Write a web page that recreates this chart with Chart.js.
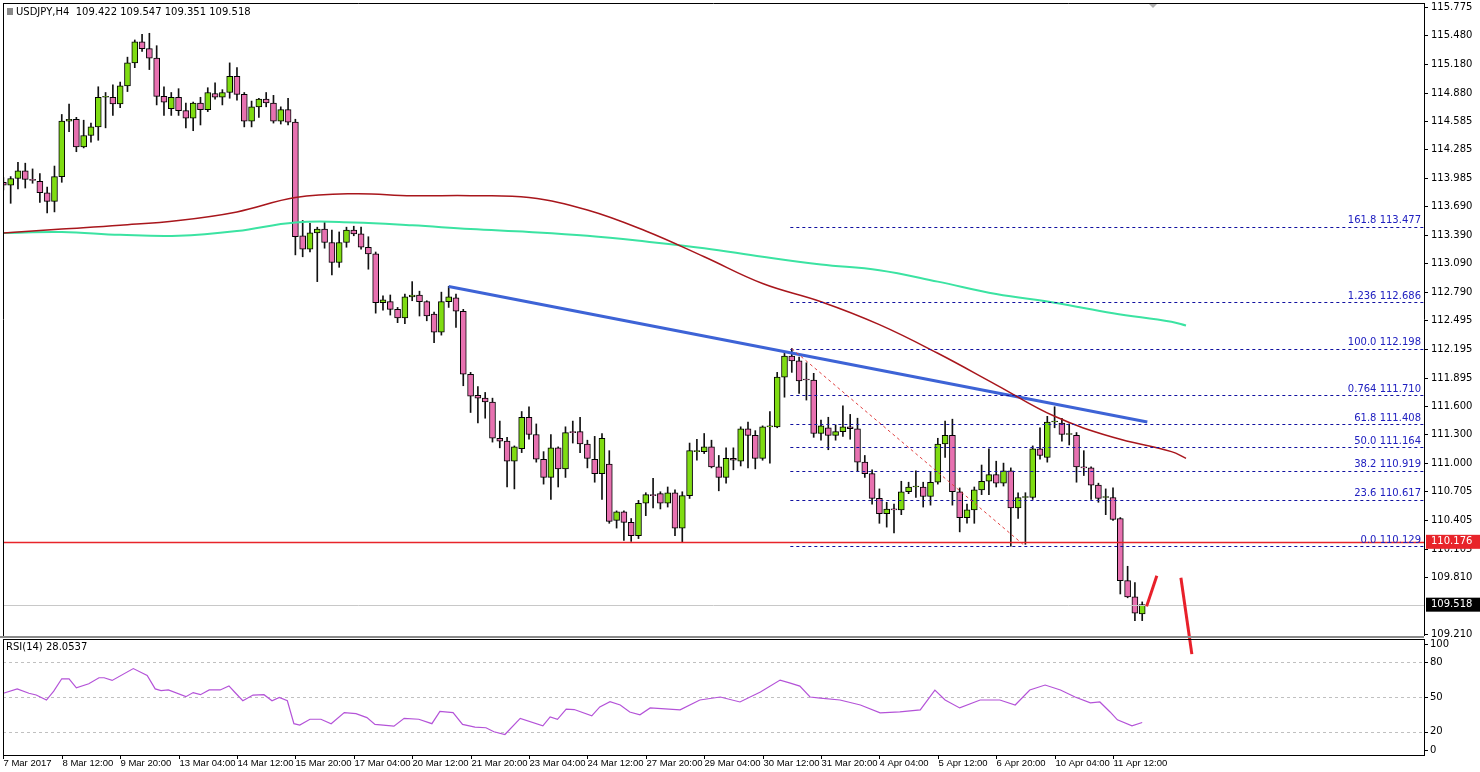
<!DOCTYPE html>
<html><head><meta charset="utf-8">
<script src="https://cdn.jsdelivr.net/npm/chart.js@4.4.1/dist/chart.umd.min.js"></script>
<style>
html,body{margin:0;padding:0;background:#fff;overflow:hidden}
#main{position:absolute;left:0;top:0}
#rsi{position:absolute;left:0;top:637px}
</style></head><body>
<canvas id="main" width="1480" height="772"></canvas>
<canvas id="rsi" width="1480" height="135"></canvas>
<script>
const opens=[113.94,113.91,113.98,114.06,113.97,113.95,113.83,113.74,114.00,114.58,114.60,114.31,114.43,114.52,114.83,114.83,114.76,114.95,115.19,115.41,115.34,115.24,114.84,114.71,114.83,114.69,114.61,114.77,114.70,114.87,114.83,114.88,115.05,114.86,114.58,114.73,114.81,114.77,114.58,114.70,
114.57,113.38,113.24,113.41,113.45,113.31,113.10,113.31,113.44,113.40,113.26,113.19,112.68,112.69,112.61,112.52,112.74,112.76,112.69,112.56,112.37,112.69,112.73,112.59,111.93,111.71,111.68,111.64,111.26,111.23,
111.02,111.15,111.48,111.30,111.04,110.85,111.16,110.94,111.33,111.33,111.20,111.04,110.89,110.99,110.40,110.49,110.38,110.24,110.58,110.67,110.68,110.58,110.69,110.32,110.66,111.12,111.12,111.17,110.96,110.85,
111.05,111.02,111.36,111.29,111.05,111.38,111.38,111.90,112.12,112.07,111.88,111.87,111.31,111.37,111.29,111.33,111.38,111.36,111.01,110.89,110.63,110.47,110.52,110.51,110.70,110.75,110.75,110.65,110.80,111.20,
111.29,110.70,110.43,110.51,110.72,110.81,110.88,110.79,110.92,110.53,110.64,110.64,111.15,111.06,111.43,111.42,111.30,111.29,110.96,110.95,110.77,110.64,110.64,110.42,109.77,109.60,109.422];
const highs=[113.99,114.00,114.15,114.14,114.08,114.03,113.89,114.11,114.65,114.76,114.62,114.59,114.56,114.94,114.88,114.96,114.99,115.25,115.43,115.49,115.50,115.37,114.94,114.88,114.92,114.77,114.78,114.83,114.93,114.98,114.91,115.19,115.14,114.88,114.79,114.82,114.88,114.85,114.73,114.82,
114.60,113.54,113.51,113.47,113.52,113.44,113.42,113.47,113.48,113.47,113.37,113.21,112.75,112.76,112.63,112.77,112.90,112.80,112.70,112.58,112.79,112.85,112.77,112.61,111.95,111.80,111.74,111.68,111.44,111.27,
111.18,111.54,111.59,111.41,111.12,111.30,111.17,111.38,111.44,111.48,111.24,111.28,111.31,111.13,110.50,110.50,110.42,110.61,110.69,110.84,110.70,110.75,110.72,110.70,111.21,111.25,111.31,111.24,111.08,111.16,
111.16,111.38,111.43,111.34,111.39,111.54,111.95,112.15,112.20,112.11,112.05,111.94,111.45,111.48,111.40,111.60,111.51,111.47,111.08,110.93,110.73,110.59,110.57,110.81,110.80,110.92,110.80,110.91,111.26,111.44,
111.46,110.74,110.57,110.75,110.98,111.15,111.02,111.00,110.95,110.69,110.69,111.18,111.37,111.49,111.59,111.47,111.41,111.32,111.13,110.96,110.79,110.73,110.74,110.43,109.92,109.75,109.547];
const lows=[113.86,113.72,113.87,113.88,113.93,113.73,113.62,113.63,113.94,114.47,114.26,114.30,114.36,114.38,114.51,114.64,114.72,114.89,115.14,115.31,115.12,114.75,114.64,114.64,114.64,114.51,114.48,114.54,114.68,114.81,114.75,114.82,114.80,114.52,114.52,114.62,114.73,114.56,114.55,114.54,
113.18,113.16,113.21,112.90,113.25,112.97,113.05,113.26,113.38,113.24,113.03,112.57,112.60,112.55,112.47,112.46,112.70,112.54,112.49,112.26,112.34,112.63,112.42,111.81,111.53,111.42,111.47,111.22,111.16,110.75,
110.73,111.11,111.25,111.01,110.78,110.62,110.75,110.85,111.21,111.11,110.95,110.80,110.62,110.37,110.32,110.19,110.18,110.21,110.45,110.53,110.52,110.54,110.24,110.17,110.63,111.03,111.10,110.95,110.71,110.79,
110.93,110.97,110.95,110.94,111.03,111.00,111.37,111.69,111.95,111.73,111.66,111.27,111.24,111.14,111.24,111.28,111.25,110.91,110.85,110.57,110.37,110.33,110.27,110.46,110.68,110.64,110.54,110.56,110.78,111.06,
110.56,110.28,110.37,110.37,110.67,110.67,110.75,110.76,110.13,110.42,110.15,110.62,111.04,111.01,111.37,111.23,111.19,110.80,110.87,110.62,110.59,110.46,110.40,109.63,109.59,109.35,109.351];
const closes=[113.91,113.98,114.06,113.97,113.96,113.83,113.74,114.00,114.58,114.60,114.31,114.43,114.52,114.83,114.84,114.76,114.95,115.19,115.41,115.34,115.24,114.84,114.78,114.83,114.69,114.61,114.77,114.70,114.88,114.83,114.88,115.05,114.86,114.58,114.73,114.81,114.77,114.58,114.70,114.57,
113.37,113.24,113.41,113.45,113.31,113.10,113.31,113.44,113.40,113.26,113.19,112.68,112.71,112.61,112.52,112.74,112.76,112.69,112.54,112.37,112.69,112.74,112.59,111.93,111.70,111.68,111.64,111.26,111.23,111.02,
111.17,111.48,111.30,111.04,110.85,111.16,110.94,111.32,111.32,111.20,111.05,110.89,111.26,110.39,110.49,110.38,110.24,110.58,110.67,110.66,110.58,110.69,110.32,110.66,111.13,111.13,111.17,110.96,110.85,111.05,
111.03,111.36,111.29,111.05,111.38,111.39,111.90,112.12,112.07,111.86,111.87,111.31,111.39,111.29,111.33,111.38,111.36,111.01,110.89,110.63,110.47,110.52,110.51,110.70,110.75,110.76,110.65,110.80,111.20,111.29,
110.70,110.43,110.51,110.72,110.81,110.88,110.79,110.92,110.53,110.64,110.65,111.15,111.08,111.43,111.44,111.30,111.31,110.96,110.95,110.77,110.63,110.65,110.41,109.77,109.60,109.43,109.518];

const maIdx=[0,8,16,24,32,40,48,56,64,72,80,88,96,104,112,120,128,136,144,152,160,162];
const maRed=[113.41,113.45,113.49,113.54,113.63,113.78,113.82,113.80,113.80,113.78,113.65,113.43,113.16,112.88,112.69,112.45,112.15,111.82,111.49,111.27,111.12,111.05];
const maGreen=[113.41,113.42,113.39,113.38,113.43,113.52,113.52,113.49,113.45,113.42,113.38,113.32,113.25,113.16,113.08,113.02,112.90,112.77,112.68,112.57,112.48,112.44];

const trendIdx=[61,156.7];
const trendVal=[112.85,111.43];
const fibTrendIdx=[108,140];
const fibTrendVal=[112.198,110.129];
const fibStartIdx=107.8;
const fibLevels=[113.477,112.686,112.198,111.710,111.408,111.164,110.919,110.617,110.129];
const fibNames=["161.8 113.477","1.236 112.686","100.0 112.198","0.764 111.710","61.8 111.408","50.0 111.164","38.2 110.919","23.6 110.617","0.0 110.129"];
const supportLevel=110.176;
const lastPrice=109.518;
const arrowIdx=[[156.6,158.0],[161.3,162.8]];
const arrowVal=[[109.50,109.82],[109.80,109.00]];

const yTicks=[115.775,115.480,115.180,114.880,114.585,114.285,113.985,113.690,113.390,113.090,112.790,112.495,112.195,111.895,111.600,111.300,111.000,110.705,110.405,110.105,109.810,109.210];
const xTickIdx=[0,8,16,24,32,40,48,56,64,72,80,88,96,104,112,120,128,136,144,152];
const xTickLabels=["7 Mar 2017","8 Mar 12:00","9 Mar 20:00","13 Mar 04:00","14 Mar 12:00","15 Mar 20:00","17 Mar 04:00","20 Mar 12:00","21 Mar 20:00","23 Mar 04:00","24 Mar 12:00","27 Mar 20:00","29 Mar 04:00","30 Mar 12:00","31 Mar 20:00","4 Apr 04:00","5 Apr 12:00","6 Apr 20:00","10 Apr 04:00","11 Apr 12:00"];

const rsiIdx=[0,1.9,3.5,4.5,5.9,6.9,8,9,10,11.7,13.1,13.8,14.9,17.8,19.7,20.8,21.6,22.6,25,26,27,28.2,29.7,30.9,31.7,32.8,34.2,35.7,36.8,37.8,38.9,39.8,40.6,42,43.5,44.9,46.7,48.3,49.8,50.9,53.5,54.9,56.9,58.7,59.8,61.6,62.9,64.6,66.1,67.2,68.7,70.8,73.9,74.9,75.9,77.1,78.2,80.6,81.7,
83.1,84.5,85.8,87.2,88.6,92.7,95.4,98.2,100.9,103.7,106.4,107.8,109.1,110.5,111.9,114.6,117.4,120.1,122.8,125.6,127.6,129,131,133.8,136.5,138.6,140.6,142.7,144.8,146.8,148.9,150.2,151.6,152.6,154.6,156];
const rsiVal=[53.2,57.0,53.2,51.7,47.4,55.0,65.7,65.7,57.9,61.4,66.6,66.6,64.3,74.5,68.6,57.0,55.5,56.1,50.3,53.8,52.0,56.1,56.1,59.6,54.1,46.8,51.7,52.0,46.8,49.7,46.8,27.0,25.8,30.8,30.8,27.0,36.6,35.7,32.2,26.4,24.9,31.6,30.8,27.0,37.5,36.6,26.4,24.1,23.5,20.0,17.7,31.6,25.2,32.8,30.8,39.5,39.2,33.7,41.5,
46.0,43.1,37.1,34.6,40.6,38.9,47.4,50.0,45.7,54.3,64.6,62.0,59.4,50.0,49.1,47.4,43.1,36.3,37.1,38.9,56.0,47.4,40.6,47.4,47.4,43.1,56.0,60.3,56.0,50.0,44.9,45.7,37.1,30.3,25.1,28.05];
const rsiTicks=[100,80,50,20,0];

const BULL='#7fdc12', BEAR='#e771b0';
const FONT='10px "DejaVu Sans"';
const XFONT='9.5px "Liberation Sans"';
const XMIN=-0.05, XMAX=194.6;

const bodies=opens.map((o,i)=>({x:i,y:[o,closes[i]]}));
const wicks=lows.map((l,i)=>({x:i,y:[l,highs[i]]}));
const colors=opens.map((o,i)=>closes[i]>=o?BULL:BEAR);

const mainPlugin={
 id:'mainDeco',
 afterDatasetsDraw(chart){
  const c=chart.ctx,xs=chart.scales.x,ys=chart.scales.y,a=chart.chartArea;
  const X=v=>xs.getPixelForValue(v),Y=v=>ys.getPixelForValue(v);
  c.save();
  c.setLineDash([3,3]);c.strokeStyle='#1010a0';c.lineWidth=1;
  fibLevels.forEach(v=>{const y=Math.round(Y(v))+0.5;c.beginPath();c.moveTo(X(fibStartIdx),y);c.lineTo(a.right,y);c.stroke();});
  c.strokeStyle='#e04040';c.setLineDash([3,3]);
  c.beginPath();c.moveTo(X(fibTrendIdx[0]),Y(fibTrendVal[0]));c.lineTo(X(fibTrendIdx[1]),Y(fibTrendVal[1]));c.stroke();
  c.setLineDash([]);
  let ys1=Math.round(Y(supportLevel))+0.5;
  c.strokeStyle='#e8242a';c.lineWidth=1.5;c.beginPath();c.moveTo(a.left,ys1);c.lineTo(a.right,ys1);c.stroke();
  let yl=Math.round(Y(lastPrice))+0.5;
  c.strokeStyle='#c8c8c8';c.lineWidth=1;c.beginPath();c.moveTo(a.left,yl);c.lineTo(a.right,yl);c.stroke();
  c.font=FONT;c.fillStyle='#2020c0';c.textAlign='right';c.textBaseline='bottom';
  fibLevels.forEach((v,i)=>c.fillText(fibNames[i],a.right-3,Y(v)-1));
  c.strokeStyle='#e8202a';c.lineWidth=3;
  arrowIdx.forEach((ix,k)=>{c.beginPath();c.moveTo(X(ix[0]),Y(arrowVal[k][0]));c.lineTo(X(ix[1]),Y(arrowVal[k][1]));c.stroke();});
  c.strokeStyle='#000';c.lineWidth=1;
  c.beginPath();c.moveTo(a.left+0.5,a.top);c.lineTo(a.left+0.5,a.bottom);c.moveTo(a.left,a.top+0.5);c.lineTo(a.right,a.top+0.5);
  c.moveTo(a.right+0.5,a.top);c.lineTo(a.right+0.5,a.bottom);c.stroke();
  c.strokeStyle='#8a8a8a';c.lineWidth=2;c.beginPath();c.moveTo(0,a.bottom+1);c.lineTo(a.right,a.bottom+1);c.stroke();
  c.fillStyle='#000';c.textAlign='left';c.textBaseline='middle';c.strokeStyle='#000';c.lineWidth=1;
  yTicks.forEach(v=>{const y=Math.round(Y(v))+0.5;c.beginPath();c.moveTo(a.right,y);c.lineTo(a.right+4,y);c.stroke();c.fillText(v.toFixed(3),a.right+7,y);});
  [[supportLevel,'#e8242a'],[lastPrice,'#000']].forEach(([v,col])=>{const y=Y(v);c.fillStyle=col;c.fillRect(a.right+2,y-7,54,14);c.fillStyle='#fff';c.fillText(v.toFixed(3),a.right+7,y);});
  c.fillStyle='#000';c.textAlign='left';c.textBaseline='middle';
  c.fillText('USDJPY,H4  109.422 109.547 109.351 109.518',16,12);
  c.fillStyle='#888';c.fillRect(7,8,6,7);
  c.fillStyle='#b0b0b0';c.beginPath();c.moveTo(1149,4);c.lineTo(1157,4);c.lineTo(1153,8);c.fill();
  c.restore();
 }
};

new Chart(document.getElementById('main'),{
 type:'bar',
 data:{datasets:[
  {type:'line',data:maIdx.map((x,i)=>({x,y:maRed[i]})),borderColor:'#a8161c',borderWidth:1.5,pointRadius:0,tension:0.4,order:0},
  {type:'line',data:maIdx.map((x,i)=>({x,y:maGreen[i]})),borderColor:'#3be3a2',borderWidth:2,pointRadius:0,tension:0.4,order:0},
  {type:'line',data:trendIdx.map((x,i)=>({x,y:trendVal[i]})),borderColor:'#3d63d6',borderWidth:3,pointRadius:0,order:0},
  {data:bodies,backgroundColor:colors,borderColor:'#000',borderWidth:1,borderSkipped:false,barThickness:6,minBarLength:1,grouped:false,order:1},
  {data:wicks,backgroundColor:'#111',borderWidth:0,barThickness:1,grouped:false,order:2}
 ]},
 options:{responsive:false,animation:false,devicePixelRatio:1,
  layout:{padding:{left:3,right:56,top:3,bottom:136}},
  plugins:{legend:{display:false},tooltip:{enabled:false}},
  scales:{x:{type:'linear',offset:false,bounds:'ticks',min:XMIN,max:XMAX,display:false},y:{min:109.19,max:115.817,display:false}}
 },
 plugins:[mainPlugin]
});

const rsiPlugin={
 id:'rsiDeco',
 beforeDatasetsDraw(chart){
  const c=chart.ctx,ys=chart.scales.y,a=chart.chartArea;
  c.save();c.setLineDash([3,3]);c.strokeStyle='#c0c0c0';c.lineWidth=1;
  [80,50,20].forEach(v=>{const y=Math.round(ys.getPixelForValue(v))+0.5;c.beginPath();c.moveTo(a.left,y);c.lineTo(a.right,y);c.stroke();});
  c.restore();
 },
 afterDatasetsDraw(chart){
  const c=chart.ctx,xs=chart.scales.x,ys=chart.scales.y,a=chart.chartArea;
  c.save();c.strokeStyle='#000';c.lineWidth=1;
  c.strokeRect(a.left+0.5,a.top+0.5,a.right-a.left,a.bottom-a.top);
  c.font=FONT;c.fillStyle='#000';c.textBaseline='middle';c.textAlign='left';
  rsiTicks.forEach(v=>{let y=ys.getPixelForValue(v);if(v===100)y+=5;if(v===0)y-=5;c.beginPath();c.moveTo(a.right,Math.round(y)+0.5);c.lineTo(a.right+4,Math.round(y)+0.5);c.stroke();c.fillText(String(v),a.right+6,y);});
  c.fillText('RSI(14) 28.0537',6,a.top+8);
  c.font=XFONT;c.textBaseline='top';
  xTickIdx.forEach((ix,k)=>{const x=Math.round(xs.getPixelForValue(ix))+0.5;c.beginPath();c.moveTo(x,a.bottom);c.lineTo(x,a.bottom+4);c.stroke();c.fillText(xTickLabels[k],x,a.bottom+4);});
  c.restore();
 }
};

new Chart(document.getElementById('rsi'),{
 type:'line',
 data:{datasets:[{data:rsiIdx.map((x,i)=>({x,y:rsiVal[i]})),borderColor:'#b453d8',borderWidth:1.2,pointRadius:0}]},
 options:{responsive:false,animation:false,devicePixelRatio:1,
  layout:{padding:{left:3,right:56,top:2,bottom:17}},
  plugins:{legend:{display:false},tooltip:{enabled:false}},
  scales:{x:{type:'linear',min:XMIN,max:XMAX,display:false},y:{min:0,max:100,display:false}}
 },
 plugins:[rsiPlugin]
});
</script></body></html>
